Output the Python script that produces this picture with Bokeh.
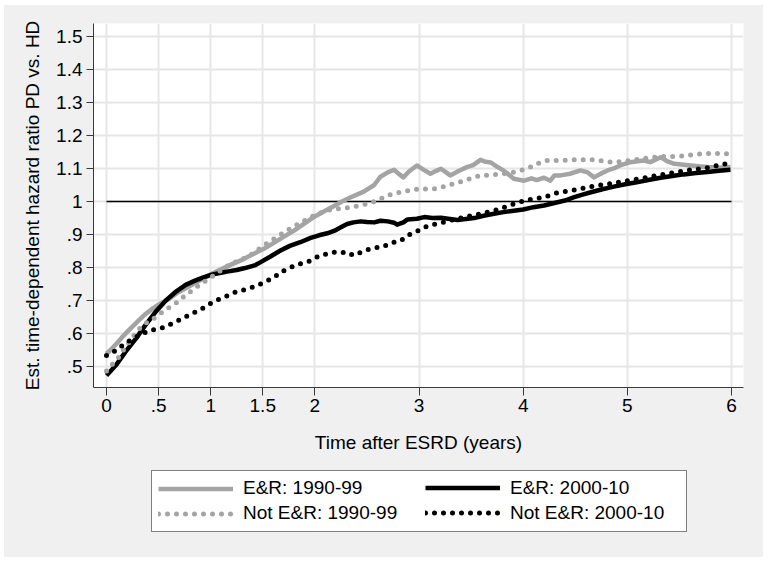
from bokeh.plotting import figure
from bokeh.layouts import column
from bokeh.models import Range1d, FixedTicker, Legend, LegendItem
from bokeh.embed import file_html
from bokeh.resources import INLINE

FONT = "Liberation Sans"

# ---- data ----
t_er90 = [0.00, 0.05, 0.10, 0.15, 0.21, 0.30, 0.37, 0.45, 0.50, 0.60, 0.69, 0.80, 0.90, 1.00,
          1.10, 1.20, 1.29, 1.40, 1.51, 1.61, 1.70, 1.80, 1.93, 2.00, 2.10, 2.18, 2.26, 2.34,
          2.47, 2.57, 2.63, 2.70, 2.76, 2.80, 2.85, 2.90, 2.98, 3.05, 3.11, 3.16, 3.21, 3.26,
          3.30, 3.38, 3.46, 3.52, 3.59, 3.64, 3.69, 3.75, 3.81, 3.86, 3.91, 4.01, 4.08, 4.13,
          4.20, 4.26, 4.30, 4.36, 4.45, 4.55, 4.62, 4.68, 4.75, 4.81, 4.87, 4.93, 5.03, 5.10,
          5.16, 5.22, 5.28, 5.32, 5.38, 5.45, 5.52, 5.61, 5.70, 5.77, 5.88, 5.99]
v_er90 = [0.540, 0.555, 0.572, 0.590, 0.610, 0.638, 0.659, 0.678, 0.688, 0.706, 0.726, 0.745, 0.762, 0.780,
          0.795, 0.810, 0.822, 0.840, 0.857, 0.876, 0.893, 0.912, 0.940, 0.955, 0.972, 0.986, 1.000, 1.012,
          1.030, 1.050, 1.075, 1.088, 1.096, 1.085, 1.073, 1.090, 1.109, 1.095, 1.084, 1.092, 1.099, 1.088,
          1.079, 1.092, 1.104, 1.110, 1.126, 1.120, 1.118, 1.105, 1.094, 1.082, 1.069, 1.063, 1.070, 1.065,
          1.072, 1.063, 1.079, 1.079, 1.084, 1.094, 1.088, 1.073, 1.085, 1.094, 1.100, 1.109, 1.119, 1.122,
          1.124, 1.119, 1.128, 1.134, 1.122, 1.114, 1.112, 1.109, 1.106, 1.104, 1.102, 1.104]

t_er00 = [0.00, 0.04, 0.09, 0.18, 0.28, 0.37, 0.47, 0.57, 0.66, 0.76, 0.85, 0.93, 1.01, 1.10,
          1.17, 1.25, 1.33, 1.43, 1.48, 1.57, 1.67, 1.76, 1.86, 1.96, 2.04, 2.12, 2.19, 2.25,
          2.31, 2.37, 2.44, 2.50, 2.57, 2.63, 2.70, 2.76, 2.79, 2.85, 2.89, 2.98, 3.05, 3.13,
          3.21, 3.28, 3.37, 3.45, 3.53, 3.62, 3.72, 3.81, 3.91, 4.00, 4.10, 4.20, 4.33, 4.40,
          4.49, 4.57, 4.65, 4.76, 4.87, 4.98, 5.09, 5.20, 5.32, 5.43, 5.54, 5.66, 5.77, 5.88, 5.99]
v_er00 = [0.474, 0.488, 0.505, 0.545, 0.585, 0.625, 0.666, 0.701, 0.726, 0.748, 0.761, 0.771, 0.779, 0.785,
          0.789, 0.793, 0.799, 0.808, 0.817, 0.833, 0.852, 0.866, 0.877, 0.890, 0.898, 0.904, 0.912, 0.922,
          0.932, 0.937, 0.940, 0.938, 0.937, 0.942, 0.940, 0.936, 0.930, 0.937, 0.946, 0.948, 0.953, 0.950,
          0.951, 0.948, 0.944, 0.947, 0.950, 0.957, 0.963, 0.968, 0.972, 0.976, 0.983, 0.988, 0.998, 1.003,
          1.013, 1.021, 1.028, 1.037, 1.045, 1.052, 1.058, 1.065, 1.072, 1.077, 1.082, 1.086, 1.089, 1.093, 1.096]

t_ne90 = [0.00, 0.06, 0.12, 0.18, 0.25, 0.34, 0.47, 0.56, 0.66, 0.74, 0.82, 0.90, 0.98, 1.08,
          1.17, 1.27, 1.37, 1.51, 1.62, 1.73, 1.83, 1.93, 2.02, 2.12, 2.22, 2.31, 2.40, 2.50,
          2.60, 2.69, 2.82, 2.92, 3.01, 3.14, 3.20, 3.27, 3.40, 3.50, 3.59, 3.67, 3.75, 3.91,
          4.04, 4.13, 4.23, 4.36, 4.49, 4.68, 4.78, 4.84, 4.93, 5.03, 5.13, 5.32, 5.48, 5.64,
          5.80, 5.94, 6.00]
v_ne90 = [0.488, 0.510, 0.530, 0.560, 0.590, 0.625, 0.650, 0.672, 0.691, 0.712, 0.731, 0.750, 0.766, 0.788,
          0.807, 0.822, 0.835, 0.867, 0.890, 0.912, 0.930, 0.948, 0.962, 0.973, 0.978, 0.981, 0.986, 0.993,
          1.003, 1.018, 1.028, 1.035, 1.038, 1.038, 1.042, 1.048, 1.060, 1.070, 1.079, 1.080, 1.082, 1.089,
          1.099, 1.114, 1.124, 1.124, 1.126, 1.126, 1.122, 1.119, 1.120, 1.124, 1.129, 1.136, 1.136, 1.142,
          1.146, 1.144, 1.145]

t_ne00 = [0.00, 0.09, 0.18, 0.31, 0.41, 0.50, 0.57, 0.65, 0.73, 0.81, 0.89, 1.01, 1.10, 1.17,
          1.25, 1.30, 1.40, 1.48, 1.61, 1.67, 1.76, 1.86, 1.93, 2.05, 2.12, 2.18, 2.25, 2.31,
          2.37, 2.43, 2.50, 2.58, 2.66, 2.73, 2.82, 2.89, 2.98, 3.05, 3.11, 3.17, 3.27, 3.37,
          3.48, 3.59, 3.75, 3.91, 4.04, 4.20, 4.31, 4.49, 4.65, 4.81, 5.00, 5.19, 5.38, 5.57,
          5.77, 5.94, 6.00]
v_ne00 = [0.535, 0.550, 0.572, 0.595, 0.610, 0.615, 0.622, 0.635, 0.646, 0.660, 0.671, 0.694, 0.708, 0.716,
          0.728, 0.731, 0.741, 0.751, 0.771, 0.786, 0.800, 0.812, 0.817, 0.837, 0.842, 0.847, 0.845, 0.847,
          0.837, 0.845, 0.854, 0.860, 0.864, 0.875, 0.880, 0.897, 0.910, 0.922, 0.927, 0.933, 0.940, 0.948,
          0.956, 0.963, 0.975, 0.993, 1.005, 1.013, 1.025, 1.035, 1.045, 1.053, 1.063, 1.073, 1.084, 1.094,
          1.102, 1.114, 1.117]

ref_t = [0, 6]
ref_v = [1, 1]

x_ticks = [0, 0.5, 1, 1.5, 2, 3, 4, 5, 6]
x_labels = ["0", ".5", "1", "1.5", "2", "3", "4", "5", "6"]
y_ticks = [0.5, 0.6, 0.7, 0.8, 0.9, 1.0, 1.1, 1.2, 1.3, 1.4, 1.5]
y_labels = [".5", ".6", ".7", ".8", ".9", "1", "1.1", "1.2", "1.3", "1.4", "1.5"]

labels = ["E&R: 1990-99", "E&R: 2000-10", "Not E&R: 1990-99", "Not E&R: 2000-10"]
series = [(t_er90, v_er90), (t_er00, v_er00), (t_ne90, v_ne90), (t_ne00, v_ne00)]

GRAY = "#a4a4a4"
BG = "#f0f0f0"

# ---- main chart ----
p = figure(width=759, height=459, output_backend="svg", toolbar_location=None,
           x_range=Range1d(-0.1248, 6.115), y_range=Range1d(0.438, 1.538),
           min_border_left=89, min_border_right=20, min_border_top=18, min_border_bottom=77,
           margin=0, frame_align=False)
p.border_fill_color = BG
p.background_fill_color = "white"
p.outline_line_color = None

for ax, ticks, labs in ((p.xaxis[0], x_ticks, x_labels), (p.yaxis[0], y_ticks, y_labels)):
    ax.ticker = FixedTicker(ticks=ticks)
    ax.major_label_overrides = {t: l for t, l in zip(ticks, labs)}
    ax.minor_tick_line_color = None
    ax.major_tick_in = 0
    ax.axis_line_color = "#3a3a3a"
    ax.major_tick_line_color = "#3a3a3a"
    ax.major_label_text_font = FONT
    ax.major_label_text_font_size = "19px"
    ax.major_label_text_color = "black"
    ax.axis_label_text_font = FONT
    ax.axis_label_text_font_size = "19px"
    ax.axis_label_text_font_style = "normal"
    ax.axis_label_text_color = "black"

p.xaxis.major_tick_out = 8
p.yaxis.major_tick_out = 7
p.xaxis.major_label_standoff = 3
p.yaxis.major_label_standoff = 4
p.xaxis.axis_label_standoff = 17
p.yaxis.axis_label_standoff = 10
p.xaxis.axis_label = "Time after ESRD (years)"
p.yaxis.axis_label = "Est. time-dependent hazard ratio PD vs. HD"

p.xgrid.ticker = FixedTicker(ticks=x_ticks)
p.ygrid.ticker = FixedTicker(ticks=y_ticks)
p.grid.grid_line_color = "#e6e6e6"
p.grid.grid_line_width = 2

p.line(ref_t, ref_v, line_color="black", line_width=1.6)

styles = [dict(line_color=GRAY, line_width=4.5, line_join="round"),
          dict(line_color="black", line_width=4.5, line_join="round"),
          dict(line_color=GRAY, line_width=5, line_dash="0 9", line_cap="round"),
          dict(line_color="black", line_width=5, line_dash="0 9", line_cap="round")]

for (tt, vv), s in zip(series, styles):
    p.line(tt, vv, **s)

# ---- legend strip (below the chart); its ranges keep the key lines out of view ----
q = figure(width=759, height=93, output_backend="svg", toolbar_location=None,
           x_range=Range1d(100, 101), y_range=Range1d(100, 101),
           x_axis_type=None, y_axis_type=None,
           min_border=0, margin=0, frame_align=False)
q.border_fill_color = BG
q.background_fill_color = BG
q.outline_line_color = None
q.grid.visible = False

lr = [q.line(tt, vv, **s) for (tt, vv), s in zip(series, styles)]

common = dict(glyph_width=75, glyph_height=23, label_height=23, label_standoff=10,
              padding=6, spacing=2, margin=0, label_text_font=FONT,
              label_text_font_size="19px", label_text_color="black",
              label_text_baseline="middle", label_width=437)

leg1 = Legend(items=[LegendItem(label=labels[0], renderers=[lr[0]]),
                     LegendItem(label=labels[2], renderers=[lr[2]])],
              location=(147, 25.5), border_line_color="black", border_line_width=1,
              background_fill_color="white", background_fill_alpha=1.0, **common)
leg2 = Legend(items=[LegendItem(label=labels[1], renderers=[lr[1]]),
                     LegendItem(label=labels[3], renderers=[lr[3]])],
              location=(421, 33), border_line_color=None,
              background_fill_alpha=0.0, **common)
q.add_layout(leg1)
q.add_layout(leg2)

layout = column(p, q, spacing=0, margin=(5, 0, 0, 4), styles={"background-color": BG})
open("out.html", "w").write(file_html(layout, INLINE))
